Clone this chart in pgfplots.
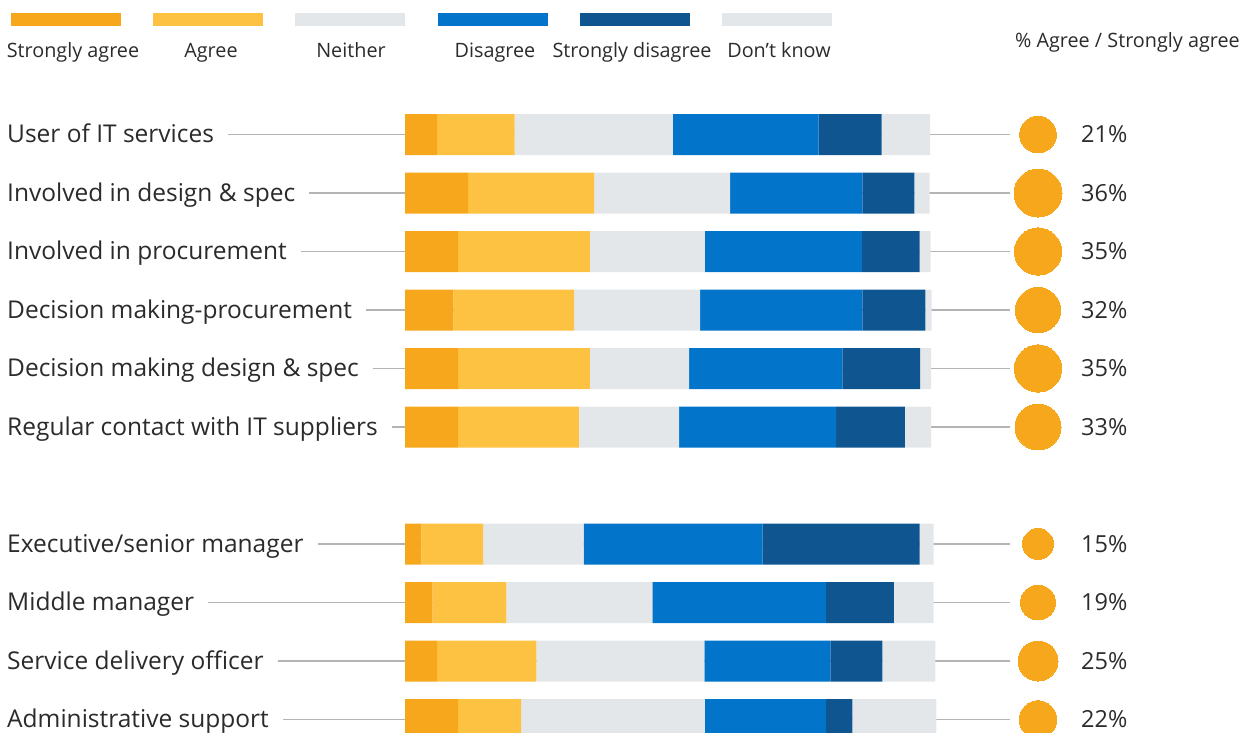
\documentclass[border=0pt]{standalone}
\usepackage{fontspec}
\setmainfont{Open Sans}
\usepackage{pgfplots}
\usepackage{pgfplotstable}
\pgfplotsset{compat=1.18}

\definecolor{csa}{HTML}{F6A71B}
\definecolor{cag}{HTML}{FDC241}
\definecolor{cne}{HTML}{E3E7EA}
\definecolor{cdi}{HTML}{0274C9}
\definecolor{csd}{HTML}{0F5691}
\definecolor{cdk}{HTML}{E3E7EA}
\definecolor{ctext}{HTML}{2B2B2B}
\definecolor{cline}{HTML}{B4B4B4}

% shares (percent of respondents), row position
\pgfplotstableread{
pos sa ag ne di sd dk pct
0 6.1 14.8 30.1 27.8 12.0 9.2 21
1 12.0 24.0 25.9 25.2 9.9 2.9 36
2 10.1 25.1 21.9 29.9 11.0 2.1 35
3 9.2 23.0 24.0 30.9 12.0 1.2 32
4 10.1 25.1 18.9 29.2 14.8 2.1 35
5 10.1 23.0 19.1 29.9 13.1 5.0 33
7 3.1 11.8 19.1 34.1 29.9 2.7 15
8 5.2 14.1 27.8 33.1 12.9 7.6 19
9 6.1 18.9 32.0 24.0 9.9 10.1 25
10 10.1 12.0 35.0 23.1 5.0 16.0 22
}\data

% positions of labels, connector lines and circles
\pgfplotstableread[col sep=comma]{
pos,lx,cx,tx,x0,lm,lp,label
0,-75.81,120.57,128.76,0,75.8,115.24,User of IT services
1,-75.81,120.57,128.76,0,75.8,115.24,Involved in design \& spec
2,-75.81,120.57,128.76,0,75.8,115.24,Involved in procurement
3,-75.81,120.57,128.76,0,75.8,115.24,Decision making-procurement
4,-75.81,120.57,128.76,0,75.8,115.24,Decision making design \& spec
5,-75.81,120.57,128.76,0,75.8,115.24,Regular contact with IT suppliers
7,-75.81,120.57,128.76,0,75.8,115.24,Executive/senior manager
8,-75.81,120.57,128.76,0,75.8,115.24,Middle manager
9,-75.81,120.57,128.76,0,75.8,115.24,Service delivery officer
10,-75.81,120.57,128.76,0,75.8,115.24,Administrative support
}\labels

\pgfplotsset{base/.style={
  scale only axis, width=1245bp, height=733bp,
  xmin=-77.142857, xmax=160, ymin=-2.29915, ymax=10.23077,
  y dir=reverse, axis lines=none, at={(0,0)}, anchor=north west}}

\begin{document}
\begin{tikzpicture}
% connector lines
\begin{axis}[base]
\addplot[draw=none, mark=none,
  error bars/.cd, x dir=both, x explicit, error mark=none,
  error bar style={line width=1.5bp, color=cline}]
  table[x=x0, y=pos, x error plus=lp, x error minus=lm]{\labels};
\end{axis}
% bars
\begin{axis}[base, xbar stacked, bar width=41bp]
\addplot[fill=csa, draw=none] table[x=sa, y=pos]{\data};
\addplot[fill=cag, draw=none] table[x=ag, y=pos]{\data};
\addplot[fill=cne, draw=none] table[x=ne, y=pos]{\data};
\addplot[fill=cdi, draw=none] table[x=di, y=pos]{\data};
\addplot[fill=csd, draw=none] table[x=sd, y=pos]{\data};
\addplot[fill=cdk, draw=none] table[x=dk, y=pos]{\data};
\end{axis}
% labels, circles, percentages
\begin{axis}[base]
\addplot[draw=none, mark=none, point meta=explicit symbolic,
  nodes near coords={\pgfplotspointmeta\hspace*{14bp}},
  nodes near coords style={anchor=base west, yshift=-8bp, fill=white,
    inner sep=0pt, text=ctext, font=\fontsize{24.5bp}{28bp}\selectfont}]
  table[x=lx, y=pos, meta=label]{\labels};
\addplot[scatter, only marks, mark=*, color=csa, point meta=\thisrow{pct},
  visualization depends on={\thisrow{pct} \as \perc},
  scatter/@pre marker code/.code={\pgfmathsetmacro\msz{4*sqrt(\perc)}\scope[mark size=\msz bp, fill=csa, draw=csa, line width=0pt]},
  scatter/@post marker code/.code={\endscope}]
  table[x expr=120.57, y=pos]{\data};
\addplot[draw=none, mark=none, point meta=\thisrow{pct},
  nodes near coords={\pgfmathprintnumber[assume math mode=true]{\pgfplotspointmeta}\%},
  nodes near coords style={anchor=base west, yshift=-8bp, inner sep=0pt,
    text=ctext, font=\fontsize{23.5bp}{28bp}\selectfont}]
  table[x expr=128.76, y=pos]{\data};
\end{axis}
% legend and header
\begin{scope}[x=1bp, y=-1bp]
\fill[csa] (11,13) rectangle (121,25.7);
\fill[cag] (153,13) rectangle (263,25.7);
\fill[cne] (295,13) rectangle (405,25.7);
\fill[cdi] (438,13) rectangle (548,25.7);
\fill[csd] (580,13) rectangle (690,25.7);
\fill[cdk] (722,13) rectangle (832,25.7);
\begin{scope}[every node/.style={anchor=base, inner sep=0pt, text=ctext,
  font=\fontsize{19.8bp}{23bp}\selectfont}]
\node at (73,57.7) {Strongly agree};
\node at (211,57.7) {Agree};
\node at (351,57.7) {Neither};
\node at (495,57.7) {Disagree};
\node at (632,57.7) {Strongly disagree};
\node at (779,57.7) {Don’t know};
\end{scope}
\node[anchor=base east, inner sep=0pt, text=ctext,
  font=\fontsize{19.8bp}{23bp}\selectfont] at (1240,47.3) {\% Agree / Strongly agree};
\end{scope}
\pgfresetboundingbox
\path[use as bounding box] (0,0) rectangle (1245bp,-733bp);
\end{tikzpicture}
\end{document}
